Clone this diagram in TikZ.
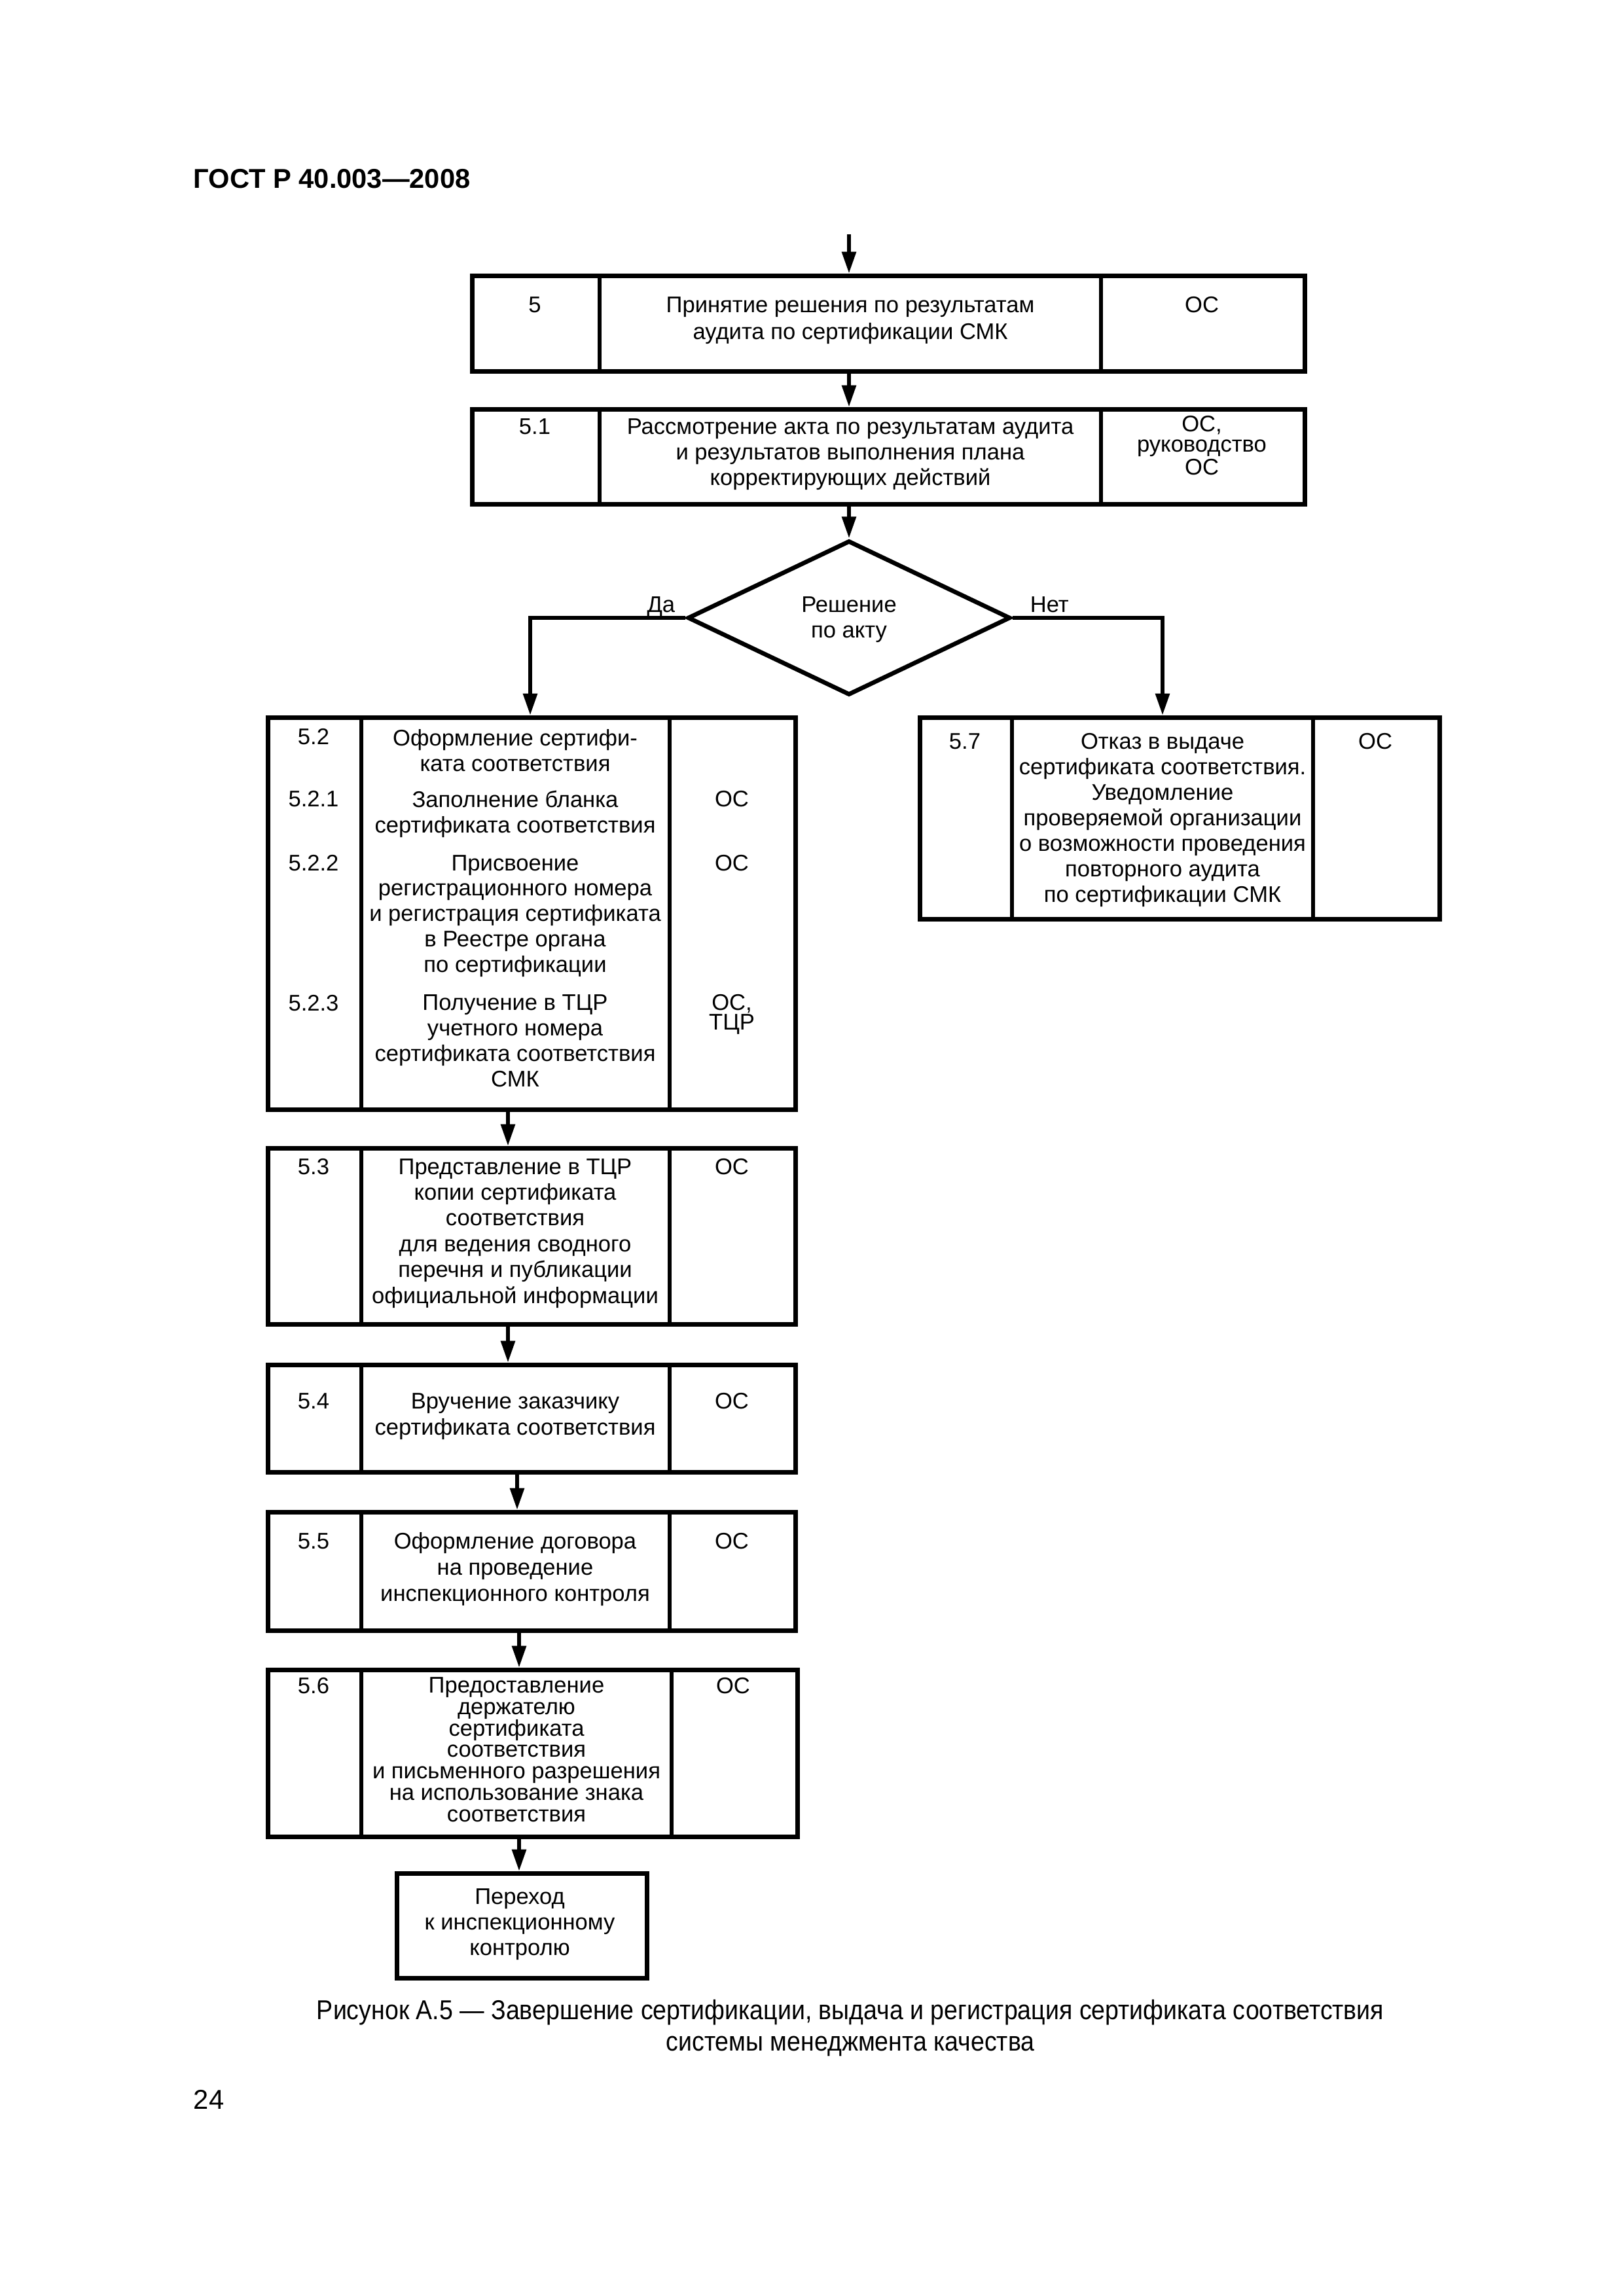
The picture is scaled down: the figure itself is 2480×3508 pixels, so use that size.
\documentclass[tikz,border=0pt]{standalone}
\usepackage{fontspec}
\setmainfont{Liberation Sans}
\newfontfamily\capfont[FakeStretch=0.9]{Liberation Sans}
\usetikzlibrary{arrows.meta,shapes.geometric}
\newcommand\mybox[5]{\node[box,minimum width={(#4-#2)*0.24pt},minimum height={(#5-#3)*0.24pt}] (#1) at (#2,#3) {};}
\begin{document}
\begin{tikzpicture}[x=0.24pt,y=-0.24pt,
  box/.style={draw,line width=1.6pt,rectangle,inner sep=0pt,anchor=north west},
  div/.style={line width=1.5pt},
  arr/.style={line width=1.5pt,-{Triangle[length=8pt,width=5pt]}},
  txt/.style={inner sep=0pt,anchor=base,align=center,font=\fontsize{8.3}{9.36}\selectfont},
  lbl/.style={inner sep=0pt,font=\fontsize{8.3}{9.36}\selectfont}]
\useasboundingbox (0,0) rectangle (2480,3508);

% header and page number
\node[inner sep=0pt,anchor=base west,font=\bfseries\fontsize{10}{12}\selectfont] (hdr) at (295,288) {ГОСТ Р 40.003—2008};
\node[inner sep=0pt,anchor=base west,font=\fontsize{10}{12}\selectfont] (pg) at (295,3222) {24};

% boxes
\mybox{b5}{718}{418}{1990}{564}
\mybox{b51}{718}{622}{1990}{767}
\node[draw,diamond,line width=1.6pt,inner sep=0pt,minimum width={493*0.24pt},minimum height={236*0.24pt}] (dia) at (1297,944) {};
\mybox{b52}{406}{1093}{1212}{1692}
\mybox{b57}{1402}{1093}{2196}{1401}
\mybox{b53}{406}{1751}{1212}{2020}
\mybox{b54}{406}{2082}{1212}{2246}
\mybox{b55}{406}{2307}{1212}{2488}
\mybox{b56}{406}{2548}{1215}{2803}
\mybox{fin}{603}{2859}{985}{3019}

% column dividers
\draw[div] (916,418) -- (916,564);
\draw[div] (1682,418) -- (1682,564);
\draw[div] (916,622) -- (916,767);
\draw[div] (1682,622) -- (1682,767);
\draw[div] (552,1093) -- (552,1692);
\draw[div] (1023,1093) -- (1023,1692);
\draw[div] (1546,1093) -- (1546,1401);
\draw[div] (2006,1093) -- (2006,1401);
\draw[div] (552,1751) -- (552,2020);
\draw[div] (1023,1751) -- (1023,2020);
\draw[div] (552,2082) -- (552,2246);
\draw[div] (1023,2082) -- (1023,2246);
\draw[div] (552,2307) -- (552,2488);
\draw[div] (1023,2307) -- (1023,2488);
\draw[div] (552,2548) -- (552,2803);
\draw[div] (1026,2548) -- (1026,2803);

% texts (multi-line nodes are placed by the baseline of their last line)
% box 5
\node[txt] (n5) at (817,478) {5};
\node[txt,font=\fontsize{8.3}{9.84}\selectfont] (d5) at (1299,519) {Принятие решения по результатам\\аудита по сертификации СМК};
\node[txt] (r5) at (1836,478) {ОС};
% box 5.1
\node[txt] (n51) at (817,664) {5.1};
\node[txt] (d51) at (1299,742) {Рассмотрение акта по результатам аудита\\и результатов выполнения плана\\корректирующих действий};
\node[txt,font=\fontsize{8.3}{7.44}\selectfont] (r51) at (1836,726) {ОС,\\руководство\\ОС};
% decision
\node[txt,font=\fontsize{8.3}{9.6}\selectfont] (tdia) at (1297,975) {Решение\\по акту};
\node[lbl,anchor=base east] (yes) at (1032,935) {Да};
\node[lbl,anchor=base west] (no) at (1573,935) {Нет};
% box 5.2
\node[txt] (n52) at (479,1137) {5.2};
\node[txt] (d52) at (787,1178) {Оформление сертифи-\\ката соответствия};
\node[txt] (n521) at (479,1232) {5.2.1};
\node[txt] (d521) at (787,1272) {Заполнение бланка\\сертификата соответствия};
\node[txt] (r521) at (1118,1232) {ОС};
\node[txt] (n522) at (479,1330) {5.2.2};
\node[txt,font=\fontsize{8.3}{9.3}\selectfont] (d522) at (787,1485) {Присвоение\\регистрационного номера\\и регистрация сертификата\\в Реестре органа\\по сертификации};
\node[txt] (r522) at (1118,1330) {ОС};
\node[txt] (n523) at (479,1544) {5.2.3};
\node[txt,font=\fontsize{8.3}{9.3}\selectfont] (d523) at (787,1660) {Получение в ТЦР\\учетного номера\\сертификата соответствия\\СМК};
\node[txt,font=\fontsize{8.3}{7}\selectfont] (r523) at (1118,1573) {ОС,\\ТЦР};
% box 5.7
\node[txt] (n57) at (1474,1144) {5.7};
\node[txt] (d57) at (1776,1378) {Отказ в выдаче\\сертификата соответствия.\\Уведомление\\проверяемой организации\\о возможности проведения\\повторного аудита\\по сертификации СМК};
\node[txt] (r57) at (2101,1144) {ОС};
% box 5.3
\node[txt] (n53) at (479,1794) {5.3};
\node[txt,font=\fontsize{8.3}{9.45}\selectfont] (d53) at (787,1991) {Представление в ТЦР\\копии сертификата\\соответствия\\для ведения сводного\\перечня и публикации\\официальной информации};
\node[txt] (r53) at (1118,1794) {ОС};
% box 5.4
\node[txt] (n54) at (479,2152) {5.4};
\node[txt,font=\fontsize{8.3}{9.6}\selectfont] (d54) at (787,2192) {Вручение заказчику\\сертификата соответствия};
\node[txt] (r54) at (1118,2152) {ОС};
% box 5.5
\node[txt] (n55) at (479,2366) {5.5};
\node[txt,font=\fontsize{8.3}{9.6}\selectfont] (d55) at (787,2446) {Оформление договора\\на проведение\\инспекционного контроля};
\node[txt] (r55) at (1118,2366) {ОС};
% box 5.6
\node[txt] (n56) at (479,2587) {5.6};
\node[txt,font=\fontsize{8.3}{7.85}\selectfont] (d56) at (789,2783) {Предоставление\\держателю\\сертификата\\соответствия\\и письменного разрешения\\на использование знака\\соответствия};
\node[txt] (r56) at (1120,2587) {ОС};
% final
\node[txt] (tfin) at (794,2987) {Переход\\к инспекционному\\контролю};

% caption
\node[inner sep=0pt,anchor=base,align=center,font=\capfont\fontsize{10}{11.3}\selectfont] (cap) at (1299,3133) {Рисунок А.5 — Завершение сертификации, выдача и регистрация сертификата соответствия\\системы менеджмента качества};

% connectors
\coordinate (start) at (1297,358);
\coordinate (yesx) at (810,0);
\coordinate (nox) at (1776,0);
\coordinate (c1) at (776,0);
\coordinate (c2) at (790,0);
\coordinate (c3) at (793,0);
\draw[arr] (start) -- (start |- b5.north);
\draw[arr] (start |- b5.south) -- (start |- b51.north);
\draw[arr] (start |- b51.south) -- (dia.north);
\draw[arr] (dia.west) -| (yesx |- b52.north);
\draw[arr] (dia.east) -| (nox |- b57.north);
\draw[arr] (c1 |- b52.south) -- (c1 |- b53.north);
\draw[arr] (c1 |- b53.south) -- (c1 |- b54.north);
\draw[arr] (c2 |- b54.south) -- (c2 |- b55.north);
\draw[arr] (c3 |- b55.south) -- (c3 |- b56.north);
\draw[arr] (c3 |- b56.south) -- (c3 |- fin.north);
\end{tikzpicture}
\end{document}
